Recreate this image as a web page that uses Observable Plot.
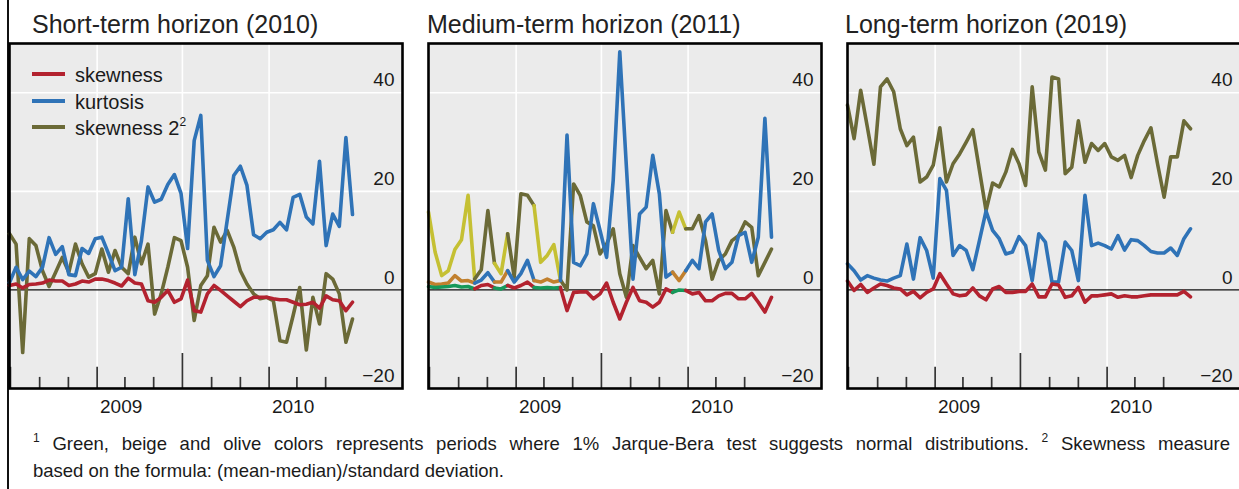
<!DOCTYPE html>
<html><head><meta charset="utf-8">
<script src="https://cdn.jsdelivr.net/npm/d3@7"></script>
<script src="https://cdn.jsdelivr.net/npm/@observablehq/plot@0.6"></script>
<style>
body{margin:0;background:#fff;}
#fig{position:relative;width:1239px;height:489px;overflow:hidden;font-family:"Liberation Sans",Arial,Helvetica,sans-serif;color:#1a1a1a;background:#fff;}
.title{position:absolute;top:12px;font-size:25px;line-height:25px;white-space:nowrap;color:#222;}
.panel{position:absolute;top:41px;}
.lg{position:absolute;font-size:20px;line-height:20px;white-space:nowrap;}
.sw{position:absolute;left:32px;width:33px;height:4px;}
#border{position:absolute;left:7.3px;top:0;width:1.8px;height:489px;background:#111;}
.note{position:absolute;left:33px;font-size:18.5px;line-height:27px;color:#1a1a1a;white-space:nowrap;}
#note1{top:430px;width:1197px;text-align:justify;text-align-last:justify;white-space:normal;}
#note2{top:457px;}
.note sup{font-size:12px;vertical-align:8px;line-height:0;}
</style></head><body><div id="fig"></div>
<script>
// ---- period axis (bi-weekly observations) ----
const periodStart = "2008-06-29";
const stepDays = 14;
const yearLabels = ["2009", "2010"];
const yTickValues = [40, 20, 0, -20];
const yTickLabels = ["40", "20", "0", "\u221220"];
const panelTitles = ["Short-term horizon (2010)", "Medium-term horizon (2011)", "Long-term horizon (2019)"];
const seriesNames = ["skewness", "kurtosis", "skewness 2"];

// ---- Short-term horizon (2010) ----
const shortSkewness = [0.9,1.2,0.4,1.1,1.2,1.4,2.0,1.8,1.8,0.9,1.2,1.8,1.6,2.2,2.2,1.9,1.4,0.8,2.4,1.4,1.2,-2.2,-2.5,-1.5,-0.1,-2.5,-1.8,2.0,-4.2,-4.5,-0.8,0.9,-0.1,-1.2,-2.3,-3.4,-2.2,-1.5,-1.5,-1.5,-1.8,-2.0,-2.0,-2.5,-3.0,-2.9,-2.5,-3.7,-1.2,-2.0,-2.2,-4.2,-2.5];
const shortKurtosis = [1.5,4.6,2.1,3.8,2.7,4.6,10.6,7.2,8.8,3.1,2.9,8.4,7.4,10.4,10.7,7.4,3.9,4.6,18.5,3.1,10.0,20.9,17.8,18.4,21.4,23.4,19.6,8.4,30.3,35.4,6.0,2.7,4.9,14.1,23.2,25.1,21.2,11.2,10.4,11.7,12.2,13.7,12.2,18.8,19.4,14.8,13.4,26.1,9.0,15.4,12.9,30.9,15.3];
const shortSkewness2 = [11.4,9.3,-12.7,10.4,9.0,3.9,0.7,3.6,6.6,3.6,9.3,5.3,2.6,3.3,8.3,3.6,8.0,4.6,3.3,10.7,5.3,9.3,-4.9,-0.8,4.6,10.6,10.0,4.6,-6.2,0.9,2.9,12.7,9.7,12.1,8.7,3.9,1.2,-0.8,-1.8,-1.5,-2.2,-10.3,-10.6,-5.2,0.5,-12.2,-1.5,-6.9,3.3,2.2,-0.8,-10.6,-5.9];

// ---- Medium-term horizon (2011) ----
const mediumSkewness = [0.7,0.5,0.6,0.7,0.9,0.6,0.7,0.2,0.9,1.1,0.4,0.2,0.9,0.4,0.9,1.6,0.5,0.4,0.5,0.4,0.5,-4.2,-0.5,-0.4,-0.4,-1.8,-0.8,1.4,-2.5,-5.9,-2.5,0.5,-2.2,-2.5,-3.5,-2.5,0.2,-0.5,0.0,-0.1,-0.8,-0.5,-2.2,-2.2,-1.2,-0.7,-0.7,-1.8,-1.8,-0.7,-2.5,-4.5,-1.5];
const mediumKurtosis = [1.6,1.1,1.2,1.4,2.9,1.8,1.9,1.4,2.0,3.5,1.6,1.6,3.9,1.6,3.3,6.0,1.9,1.6,2.2,1.6,1.9,31.4,5.6,4.9,7.3,17.5,12.1,6.6,22.2,48.3,25.0,2.2,15.4,16.8,27.3,19.5,2.6,3.6,1.9,3.9,6.0,4.3,13.8,15.4,8.0,4.3,5.6,11.0,11.7,5.6,10.7,34.8,10.7];
const mediumSkewness2 = [15.8,7.7,2.9,3.9,8.2,10.2,19.2,2.2,4.1,16.1,5.4,3.3,11.4,2.6,19.5,19.2,17.1,5.6,7.0,9.2,2.0,0.0,21.5,19.2,13.8,13.0,7.3,9.3,12.4,3.3,-1.5,9.0,6.6,4.3,6.0,-0.8,16.1,11.7,15.8,12.4,12.4,15.1,10.0,2.2,6.0,7.3,10.0,11.0,13.8,12.7,2.9,5.6,8.3];
// 1 = 1% Jarque-Bera test suggests a normal distribution
const mediumNormal = [1,1,1,1,1,1,1,1,0,0,1,1,1,0,0,0,1,1,1,1,1,0,0,0,0,0,0,0,0,0,0,0,0,0,0,0,0,1,1,1,0,0,0,0,0,0,0,0,0,0,0,0,0];

// ---- Long-term horizon (2019) ----
const longSkewness = [1.8,-0.1,1.1,-0.5,0.4,1.2,0.9,0.4,0.2,-1.0,-0.3,-1.6,-0.5,0.2,3.3,1.2,-0.8,-1.2,-1.0,0.4,-1.2,-2.0,0.2,0.7,-0.5,-0.5,-0.3,-0.3,1.2,-1.4,-1.4,1.2,1.0,-1.5,-1.2,0.5,-2.5,-1.2,-1.2,-1.0,-0.8,-1.5,-1.2,-1.4,-1.4,-1.2,-1.0,-1.0,-1.0,-1.0,-1.0,-0.3,-1.4];
const longKurtosis = [5.3,3.9,2.0,2.9,2.4,2.0,1.8,2.4,2.9,9.3,2.2,10.6,8.0,2.4,22.6,20.2,7.0,9.0,8.0,4.1,10.0,16.0,12.1,10.4,7.3,7.7,10.8,9.0,1.9,11.4,9.7,1.6,1.6,9.7,8.0,1.9,19.2,9.0,9.5,9.0,8.3,11.0,8.1,10.2,10.0,9.0,7.8,7.5,7.5,8.5,7.0,10.4,12.4];
const longSkewness2 = [37.5,30.7,40.5,33.1,25.5,41.2,42.8,40.2,32.7,29.3,31.0,21.9,22.9,25.3,32.9,21.9,25.6,27.6,30.0,32.5,24.3,16.1,21.7,20.9,23.9,28.5,25.6,21.2,41.2,28.0,24.3,43.2,42.8,23.6,24.9,34.3,25.9,29.7,28.3,29.7,27.0,26.3,27.3,22.8,27.3,30.3,32.9,25.6,18.8,27.0,27.0,34.3,32.7];

// ---- colours ----
const colors = {skewness: "#b3222f", kurtosis: "#2f73b7", skewness2: "#6b6a37"};
const normalColors = {skewness: "#16995a", kurtosis: "#c1802e", skewness2: "#c5c033"};

// ---- build ----
const MS = 864e5;
const t0 = new Date(periodStart + "T00:00:00Z");
const dates = shortSkewness.map((_, i) => new Date(t0.getTime() + i * stepDays * MS));
const pxPerDay = 343 / (52 * stepDays);
const plotW = 393, plotH = 345, M = 2, MB = 32;
const xDomain = [t0, new Date(t0.getTime() + plotW / pxPerDay * MS)];
const gridDates = [new Date(Date.UTC(2009,0,1)), new Date(Date.UTC(2009,6,1)), new Date(Date.UTC(2010,0,1))];
const tickDates = d3.utcMonth.every(2).range(new Date(Date.UTC(2008,6,1)), new Date(Date.UTC(2010,5,2)));
const tickLen = d => {
  const m = d.getUTCMonth(), y = d.getUTCFullYear();
  if (m === 6 && y === 2009) return 7.1;
  if (m === 0 || (m === 6 && y === 2008)) return 4.3;
  return 2.25;
};
const yearDates = yearLabels.map(y => new Date(Date.UTC(+y, 0, 1)));

function seriesMarks(values, color, normalColor, flags) {
  const pts = values.map((v, i) => ({date: dates[i], value: v}));
  const opts = {x: "date", y: "value", strokeWidth: 3.6, strokeLinejoin: "round", strokeLinecap: "round"};
  if (!flags) return [Plot.line(pts, {...opts, stroke: color})];
  const marks = [];
  let run = [pts[0]], runNormal = flags[0] && flags[1];
  for (let i = 0; i < pts.length - 1; i++) {
    const segNormal = !!(flags[i] && flags[i + 1]);
    if (segNormal !== !!runNormal) {
      marks.push(Plot.line(run, {...opts, stroke: runNormal ? normalColor : color}));
      run = [pts[i]];
      runNormal = segNormal;
    }
    run.push(pts[i + 1]);
  }
  marks.push(Plot.line(run, {...opts, stroke: runNormal ? normalColor : color}));
  return marks;
}

function panel(skew, kurt, skew2, flags) {
  return Plot.plot({
    width: plotW + 2 * M, height: plotH + M + MB,
    marginLeft: M, marginRight: M, marginTop: M, marginBottom: MB,
    x: {type: "utc", domain: xDomain, axis: null},
    y: {domain: [-20, 50], axis: null},
    style: {fontFamily: '"Liberation Sans", Arial, Helvetica, sans-serif', background: "transparent", overflow: "visible", color: "#1a1a1a"},
    marks: [
      Plot.frame({fill: "#ebebeb", stroke: null}),
      Plot.ruleY([20, 40], {stroke: "#fff", strokeWidth: 1.6}),
      Plot.ruleX(gridDates, {stroke: "#fff", strokeWidth: 1.6}),
      Plot.ruleY([0], {stroke: "#111", strokeWidth: 1.3}),
      Plot.ruleX(tickDates, {x: d => d, y1: -20, y2: d => -20 + tickLen(d), stroke: "#333", strokeWidth: 1.7}),
      ...seriesMarks(skew2, colors.skewness2, normalColors.skewness2, flags),
      ...seriesMarks(kurt, colors.kurtosis, normalColors.kurtosis, flags),
      ...seriesMarks(skew, colors.skewness, normalColors.skewness, flags),
      Plot.text(yTickValues, {x: xDomain[1], y: d => d, text: (d, i) => yTickLabels[i], textAnchor: "end", dx: -8, dy: -12.5, fontSize: 19, fill: "#1a1a1a"}),
      Plot.text(yearDates, {x: d => d, y: -20, text: (d, i) => yearLabels[i], textAnchor: "middle", dx: 24, dy: 18, fontSize: 19, fill: "#1a1a1a"}),
      Plot.frame({stroke: "#000", strokeWidth: 2.6})
    ]
  });
}

const fig = document.getElementById("fig");
const border = document.createElement("div"); border.id = "border"; fig.appendChild(border);
const frameLefts = [9, 428, 847];
const titleLefts = [32, 427, 845];
const panels = [
  [shortSkewness, shortKurtosis, shortSkewness2, null],
  [mediumSkewness, mediumKurtosis, mediumSkewness2, mediumNormal],
  [longSkewness, longKurtosis, longSkewness2, null]
];
panels.forEach((p, k) => {
  const svg = panel(...p);
  svg.classList.add("panel");
  svg.style.left = (frameLefts[k] - M) + "px";
  fig.appendChild(svg);
  const t = document.createElement("div");
  t.className = "title"; t.style.left = titleLefts[k] + "px"; t.textContent = panelTitles[k];
  fig.appendChild(t);
});

// legend (panel 1)
const legendColors = [colors.skewness, colors.kurtosis, colors.skewness2];
seriesNames.forEach((name, i) => {
  const cy = 74 + i * 26.5;
  const sw = document.createElement("div");
  sw.className = "sw"; sw.style.top = (cy - 2) + "px"; sw.style.background = legendColors[i];
  fig.appendChild(sw);
  const tx = document.createElement("div");
  tx.className = "lg"; tx.style.left = "75px"; tx.style.top = (cy - 9) + "px";
  tx.innerHTML = name + (i === 2 ? '<sup style="font-size:12px;vertical-align:9px;line-height:0">2</sup>' : "");
  fig.appendChild(tx);
});

const note1 = document.createElement("div");
note1.className = "note"; note1.id = "note1";
note1.innerHTML = '<sup>1</sup> Green, beige and olive colors represents periods where 1% Jarque-Bera test suggests normal distributions. <sup>2</sup> Skewness measure';
fig.appendChild(note1);
const note2 = document.createElement("div");
note2.className = "note"; note2.id = "note2";
note2.textContent = "based on the formula: (mean-median)/standard deviation.";
fig.appendChild(note2);
</script></body></html>
